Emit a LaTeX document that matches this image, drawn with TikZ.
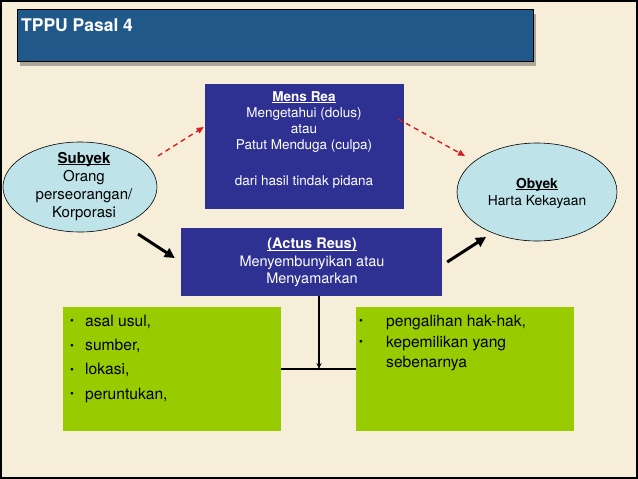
\documentclass[tikz,border=0pt]{standalone}
\usepackage{fontspec}
\setmainfont{TeX Gyre Heros}
\usetikzlibrary{shadows,arrows.meta,calc,shapes.geometric}
\definecolor{bgcol}{HTML}{F7EEDA}
\definecolor{titleblue}{HTML}{21588A}
\definecolor{boxblue}{HTML}{2E3192}
\definecolor{ellfill}{HTML}{BEE3E8}
\definecolor{boxgreen}{HTML}{99CC00}
\definecolor{dashred}{HTML}{D42020}
\newcommand{\smallbul}{\raisebox{1.6pt}{\fontsize{11}{11}\selectfont\textbullet}}
\newcommand{\ulbold}[1]{\setbox0\hbox{\textbf{#1}}\rlap{\rule[-1.7pt]{\wd0}{0.8pt}}\box0}
\begin{document}
\begin{tikzpicture}[x=1pt,y=-1pt,
  bluebox/.style={rectangle, fill=boxblue, draw=none, inner sep=0pt},
  greenbox/.style={rectangle, fill=boxgreen, draw=none, inner sep=0pt, minimum width=218pt, minimum height=124pt},
  ellnode/.style={ellipse, fill=ellfill, draw=black, line width=0.6pt, inner sep=0pt},
  whitetext/.style={align=center, text=white, inner sep=0pt},
  blacktext/.style={align=center, text=black, inner sep=0pt},
  reddash/.style={draw=dashred, dashed, dash pattern=on 5pt off 4pt, line width=1.4pt, -{Triangle[length=7pt,width=6pt]}},
  thickarrow/.style={draw=black, line width=3pt, -{Triangle[length=10pt,width=10pt]}},
  thinline/.style={draw=black, line width=1.3pt},
]
\fill[bgcol] (0,0) rectangle (638,479);
\draw[line width=2pt] (1,1) rectangle (637,478);

% title
\node[rectangle, fill=titleblue, draw=black, line width=0.8pt, minimum width=516pt, minimum height=52pt, inner sep=0pt,
  drop shadow={shadow xshift=3pt, shadow yshift=-5pt, opacity=0.3, fill=black}] (title) at (275,35) {};
\node[anchor=west, text=white, inner sep=0pt, font=\bfseries\fontsize{17.5}{20}\selectfont] (titletext) at (21,25) {TPPU Pasal 4};

% mens rea
\node[bluebox, minimum width=199pt, minimum height=125pt] (mens) at (304.5,146.5) {};
\node[whitetext, anchor=north, font=\fontsize{13.5}{16}\selectfont] (menstext) at (304,91) {\ulbold{Mens Rea}\\ Mengetahui (dolus)\\ atau\\ Patut Menduga (culpa)\\[20pt] dari hasil tindak pidana};

% subyek
\node[ellnode, minimum width=154pt, minimum height=90pt] (subyek) at (80,187) {};
\node[blacktext, anchor=north, font=\fontsize{15}{18}\selectfont] (subyektext) at (84,152) {\ulbold{Subyek}\\ Orang\\ perseorangan/\\ Korporasi};

% obyek
\node[ellnode, minimum width=160pt, minimum height=98pt] (obyek) at (537,192) {};
\node[blacktext, anchor=north, font=\fontsize{13.8}{17}\selectfont] (obyektext) at (537,178) {\ulbold{Obyek}\\ Harta Kekayaan};

% actus reus
\node[bluebox, minimum width=261pt, minimum height=68pt] (actus) at (311.5,262) {};
\node[whitetext, anchor=north, font=\fontsize{14.5}{17.5}\selectfont] (actustext) at (312,238) {\ulbold{(Actus Reus)}\\ Menyembunyikan atau\\ Menyamarkan};

% green boxes
\node[greenbox] (gleft) at (172,369) {};
\node[greenbox] (gright) at (465,369) {};
\node[anchor=north west, align=left, inner sep=0pt, font=\fontsize{15.6}{24.2}\selectfont] (lefttext) at (70,315)
  {\makebox[15pt][l]{\smallbul}asal usul,\\ \makebox[15pt][l]{\smallbul}sumber,\\ \makebox[15pt][l]{\smallbul}lokasi,\\ \makebox[15pt][l]{\smallbul}peruntukan,};
\node[anchor=north west, align=left, inner sep=0pt, font=\fontsize{15.6}{20.5}\selectfont] (righttext) at (359,315)
  {\makebox[27pt][l]{\smallbul}pengalihan hak-hak,\\ \makebox[27pt][l]{\smallbul}kepemilikan yang\\ \hspace*{27pt}sebenarnya};

% connectors
\coordinate (r1s) at (158,156);
\draw[reddash] (r1s) -- ($(mens.west)+(-1,-19.5)$);
\coordinate (r2e) at (465,156);
\draw[reddash] ($(mens.east)+(-6,-27.5)$) -- (r2e);

\coordinate (b1s) at (138,234);
\draw[thickarrow] (b1s) -- ($(actus.west)+(-6,-4)$);
\coordinate (b2e) at (486,237);
\draw[thickarrow] ($(actus.east)+(5,0)$) -- (b2e);

\draw[thinline] (gleft.east) -- (gright.west);
\coordinate (junction) at (319,369);
\draw[thinline, -{Stealth[length=6pt,width=5pt]}] (actus.south -| junction) -- (junction);
\end{tikzpicture}
\end{document}
